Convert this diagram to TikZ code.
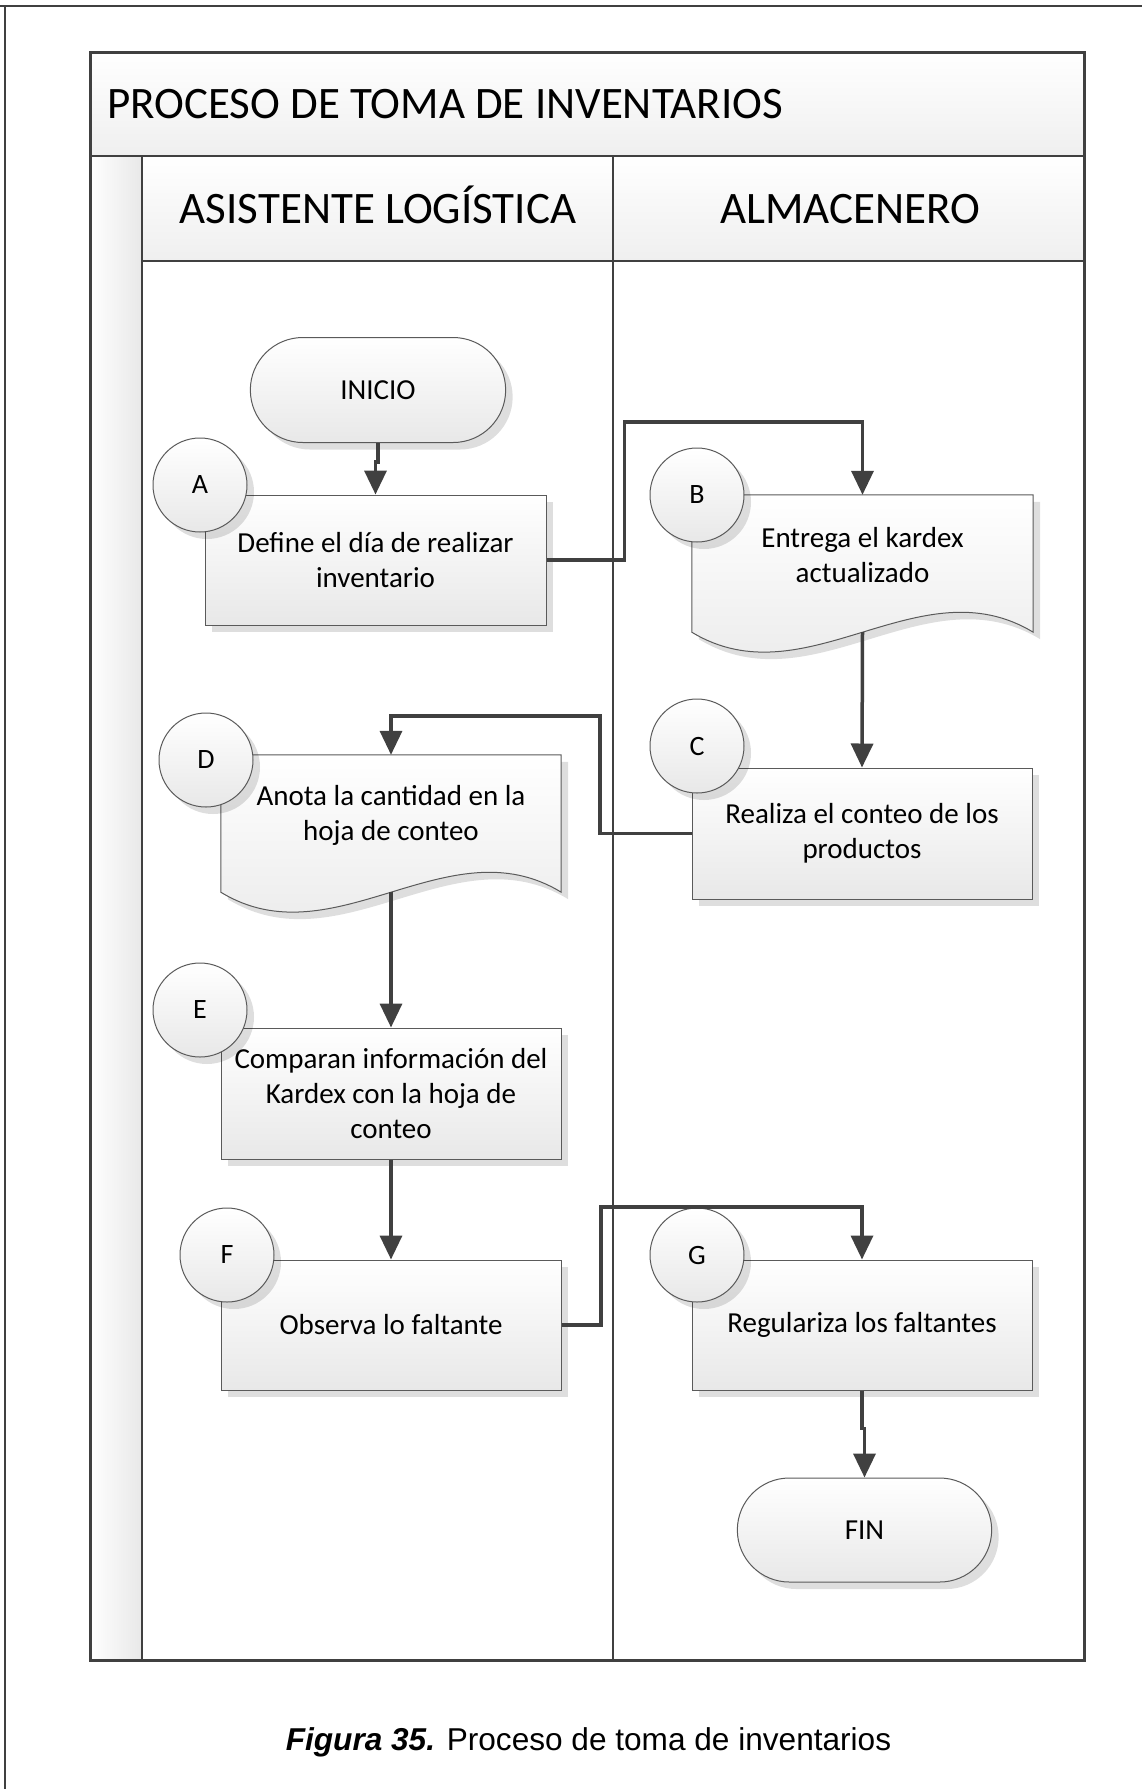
\documentclass[tikz,border=0pt]{standalone}
\usepackage{fontspec}
\setmainfont{Carlito}
\newfontfamily\capfont{Liberation Sans}
\usetikzlibrary{arrows.meta,calc,shadows,shapes.misc}
\definecolor{invink}{HTML}{404040}
\definecolor{invedge}{HTML}{5A5A5A}
\definecolor{invshade}{HTML}{E8E8E8}
\definecolor{invhead}{HTML}{EFEFEF}
\tikzset{
  inv text/.style={font=\fontsize{29}{35}\selectfont, text=black, align=center},
  inv shadow/.style={drop shadow={shadow xshift=7pt, shadow yshift=-7pt,
    fill=black, opacity=0.13}},
  inv box/.style={draw=invedge, line width=1pt, top color=white, bottom color=invshade,
    inv shadow, minimum width=341pt, minimum height=130pt, inner sep=0pt, inv text},
  inv term/.style={rounded rectangle, draw=invedge, line width=1pt, top color=white,
    bottom color=invshade, inv shadow, minimum width=262pt, minimum height=105pt, inv text},
  inv tag/.style={circle, draw=invedge, line width=1pt, top color=white,
    bottom color=invshade, inv shadow, minimum size=94pt, inner sep=0pt,
    font=\fontsize{28}{30}\selectfont},
  inv docframe/.style={minimum width=341pt, minimum height=120pt, inner sep=0pt},
  inv docline/.style={draw=invedge, line width=1pt, top color=white,
    bottom color=invshade, inv shadow},
  inv flow/.style={-{Triangle[length=24pt,width=22pt]}, line width=3.5pt, draw=invink},
  inv pool/.style={draw=invink, line width=3pt},
  inv lane/.style={draw=invink, line width=2pt},
  inv head/.style={top color=white, bottom color=invhead},
  inv title/.style={font=\fontsize{45}{50}\selectfont, text height=29pt, text depth=0pt}
}

\begin{document}
\begin{tikzpicture}[x=1pt, y=-1pt]
  \useasboundingbox (0,0) rectangle (1142,1789);
  % page frame
  \draw[line width=2pt, invink] (0,6) -- (1142,6);
  \draw[line width=2pt, invink] (5,6) -- (5,1789);

  % pool and lanes
  \fill[inv head] (90,52) rectangle (1084,156);
  \fill[left color=white, right color=invshade] (90,156) rectangle (142,1660);
  \fill[inv head] (142,156) rectangle (1084,261);
  \draw[inv lane] (90,156) -- (1084,156) (142,156) -- (142,1660)
    (142,261) -- (1084,261) (613,156) -- (613,1660);
  \draw[inv pool] (90,52) rectangle (1084,1660);
  \node[inv title, anchor=west, inner sep=0pt] (pool) at (107,104) {PROCESO DE TOMA DE INVENTARIOS};
  \node[inv title] (asis) at (378,209) {ASISTENTE LOGÍSTICA};
  \node[inv title] (alma) at (850,209) {ALMACENERO};

  % steps
  \node[inv term] (inicio) at (378,390) {INICIO};
  \node[inv box] (A) at (375.5,560) {Define el día de realizar\\inventario};

  \node[inv docframe] (B) at (862.5,555) {};
  \draw[inv docline] (B.north west) -- (B.north east) -- ([yshift=-17pt]B.south east)
    .. controls +(-114,-69) and +(114,69) .. ([yshift=-17pt]B.south west) -- cycle;
  \node[inv text] (Btext) at (B) {Entrega el kardex\\actualizado};

  \node[inv box, minimum width=340pt, minimum height=131pt] (C) at (862,833.5) {Realiza el conteo de los\\productos};

  \node[inv docframe, minimum width=340pt] (D) at (391,815) {};
  \draw[inv docline] (D.north west) -- (D.north east) -- ([yshift=-17pt]D.south east)
    .. controls +(-113,-69) and +(113,69) .. ([yshift=-17pt]D.south west) -- cycle;
  \node[inv text] (Dtext) at (D) {Anota la cantidad en la\\hoja de conteo};

  \node[inv box, minimum width=340pt, minimum height=131pt] (E) at (391,1093.5) {Comparan información del\\Kardex con la hoja de\\conteo};
  \node[inv box, minimum width=340pt] (F) at (391,1325) {Observa lo faltante};
  \node[inv box, minimum width=340pt] (G) at (862,1325) {Regulariza los faltantes};
  \node[inv term, minimum width=261pt, minimum height=104pt] (fin) at (864.5,1530) {FIN};

  % letter tags
  \node[inv tag] (tagA) at (200,485) {A};
  \node[inv tag] (tagB) at (697,495) {B};
  \node[inv tag] (tagC) at (697,746) {C};
  \node[inv tag] (tagD) at (206,760) {D};
  \node[inv tag] (tagE) at (200,1010) {E};
  \node[inv tag] (tagF) at (227,1255) {F};
  \node[inv tag] (tagG) at (697,1255) {G};

  % flow
  \draw[inv flow] (inicio.south) -- ++(0,19) -| (A.north);
  \draw[inv flow] (A.east) -| ($(A.east)+(78,-138)$) -| (B.north);
  \draw[inv flow] ([yshift=-17pt]B.south) -- (C.north);
  \draw[inv flow] (C.west) -| ($(C.west)+(-91.5,-117.5)$) -| (D.north);
  \draw[inv flow] ([yshift=-17pt]D.south) -- (E.north);
  \draw[inv flow] (E.south) -- (F.north);
  \draw[inv flow] (F.east) -| ($(F.east)+(39.5,-118)$) -| (G.north);
  \draw[inv flow] (G.south) -- ++(0,38) -| (fin.north);

  \node[font=\capfont\fontsize{31.6}{36}\selectfont] (caption) at (588.5,1742)
    {\textbf{\textit{Figura 35.}} Proceso de toma de inventarios};
\end{tikzpicture}
\end{document}
